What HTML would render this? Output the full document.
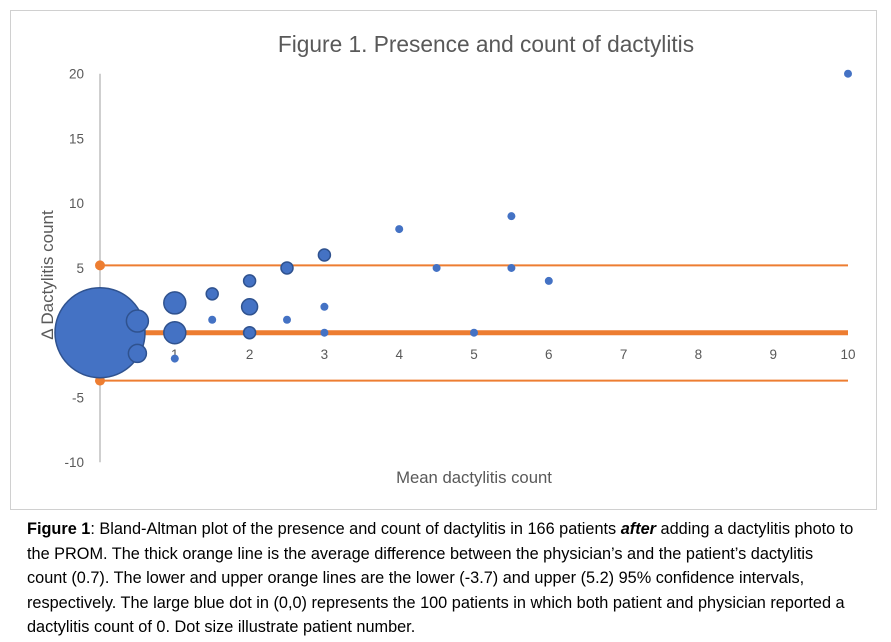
<!DOCTYPE html>
<html><head><meta charset="utf-8"><style>
body{margin:0;background:#fff;width:891px;height:642px;overflow:hidden;font-family:"Liberation Sans",sans-serif}
#cap{position:absolute;left:27px;top:517px;width:860px;font-size:16.3px;line-height:24.6px;color:#000;white-space:nowrap}
</style></head><body>
<svg width="891" height="642" style="position:absolute;left:0;top:0">
<rect x="10.5" y="10.5" width="866" height="499" fill="#fff" stroke="#d0d0d0"/>
<text x="486" y="52" text-anchor="middle" font-size="22.7" fill="#595959">Figure 1. Presence and count of dactylitis</text>
<g id="g"></g>
<text x="474" y="483" text-anchor="middle" font-size="16.7" fill="#595959">Mean dactylitis count</text>
<text transform="translate(53,275) rotate(-90)" text-anchor="middle" font-size="17" fill="#595959">Δ Dactylitis count</text>
</svg>
<div id="cap"><b>Figure 1</b>: Bland-Altman plot of the presence and count of dactylitis in 166 patients <b><i>after</i></b> adding a dactylitis photo to<br>the PROM. The thick orange line is the average difference between the physician’s and the patient’s dactylitis<br>count (0.7). The lower and upper orange lines are the lower (-3.7) and upper (5.2) 95% confidence intervals,<br>respectively. The large blue dot in (0,0) represents the 100 patients in which both patient and physician reported a<br>dactylitis count of 0. Dot size illustrate patient number.</div>
<script>
const xs=[0,0.5,0.5,1,1,1,1.5,1.5,2,2,2,2.5,2.5,3,3,3,4,4.5,5.5,5.5,5,6,10];
const ys=[0,0.9,-1.6,2.3,0,-2,3,1,4,2,0,5,1,6,2,0,8,5,9,5,0,4,20];
const rs=[45,11,9,11,11,4,6,4,6,8,6,6,4,6,4,4,4,4,4,4,4,4,4];
const yTicks=[20,15,10,5,-5,-10];
const xTicks=[1,2,3,4,5,6,7,8,9,10];
const meanLine=0;const upper=5.2;const lower=-3.7;
const X=v=>100+v*74.8, Y=v=>332.7-v*12.95;
const g=document.getElementById('g'),NS='http://www.w3.org/2000/svg';
function mk(t,a){const e=document.createElementNS(NS,t);for(const k in a)e.setAttribute(k,a[k]);g.appendChild(e);return e;}
let ax=mk('line',{x1:X(0),x2:X(0),y1:Y(20),y2:Y(-10),stroke:'#bfbfbf','stroke-width':1.5});


yTicks.forEach(v=>{const t=mk('text',{x:84,y:Y(v)+5,'text-anchor':'end','font-size':13.5,fill:'#595959'});t.textContent=v;

});
xTicks.forEach(v=>{const t=mk('text',{x:X(v),y:359,'text-anchor':'middle','font-size':13.5,fill:'#595959'});t.textContent=v;

});
[[upper,2,'upper-limit-line'],[lower,2,'lower-limit-line'],[meanLine,5,'mean-difference-line']].forEach(([v,w,n])=>{
const l=mk('line',{x1:X(0),x2:X(10),y1:Y(v),y2:Y(v),stroke:'#ed7d31','stroke-width':w});


if(w<3){const c=mk('circle',{cx:X(0),cy:Y(v),r:5,fill:'#ed7d31'});

}
});
xs.forEach((x,i)=>{const c=mk('circle',{cx:X(x),cy:Y(ys[i]),r:rs[i],fill:'#4472c4',stroke:rs[i]>4?'#2f528f':'none','stroke-width':1.5});

});
</script>
</body></html>
